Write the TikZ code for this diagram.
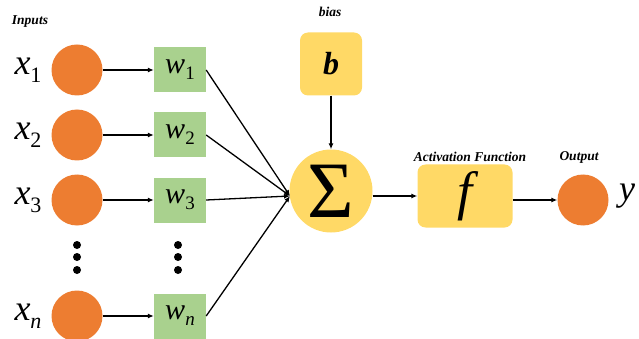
\documentclass[tikz,border=0pt]{standalone}
\usepackage{fontspec}
\setmainfont{LiberationSerif}[Extension=.ttf,UprightFont=*-Regular,BoldFont=*-Bold,ItalicFont=*-Italic,BoldItalicFont=*-BoldItalic]
\usetikzlibrary{arrows.meta}
\definecolor{inorange}{HTML}{ED7D31}
\definecolor{wgreen}{HTML}{A9D18E}
\definecolor{ayellow}{HTML}{FFD966}
\tikzset{
  inp/.style={circle,fill=inorange,minimum size=51pt,inner sep=0pt},
  wbox/.style={rectangle,fill=wgreen,minimum width=52pt,minimum height=45pt,inner sep=0pt},
  ybox/.style={rectangle,rounded corners=8pt,fill=ayellow,inner sep=0pt},
  lbl/.style={font=\fontsize{13.5}{13.5}\selectfont\bfseries\itshape},
  xlab/.style={inner sep=0pt},
  conn/.style={line width=1.3pt,-{Latex[length=6pt,width=5pt]}},
  dotc/.style={circle,fill=black,minimum size=8pt,inner sep=0pt}
}
\newcommand{\xsub}[2]{{\fontsize{36}{36}\selectfont\itshape #1}\raisebox{-8pt}{\fontsize{22}{22}\selectfont #2}}
\newcommand{\wsub}[2]{{\fontsize{30}{30}\selectfont\itshape #1}\raisebox{-6pt}{\fontsize{19}{19}\selectfont #2}}
\begin{document}
\begin{tikzpicture}[x=1pt,y=-1pt]
\useasboundingbox (0,0) rectangle (639,339);
\node[lbl] (inlab) at (30,22) {Inputs};
% inputs
\node[inp] (i1) at (77,70) {};
\node[inp] (i2) at (77,135) {};
\node[inp] (i3) at (77,200) {};
\node[inp] (in) at (77,316) {};
\node[xlab] (x1) at (28,70) {\xsub{x}{1}};
\node[xlab] (x2) at (28,135) {\xsub{x}{2}};
\node[xlab] (x3) at (28,200) {\xsub{x}{3}};
\node[xlab] (xn) at (28,316) {\xsub{x}{\itshape n}};
% weights
\node[wbox] (w1) at (180,70) {\wsub{w}{1}};
\node[wbox] (w2) at (180,135) {\wsub{w}{2}};
\node[wbox] (w3) at (180,200) {\wsub{w}{3}};
\node[wbox] (wn) at (180,316) {\wsub{w}{\itshape n}};
% dots
\node[dotc] (da1) at (77,245) {};
\node[dotc] (da2) at (77,257) {};
\node[dotc] (da3) at (77,270) {};
\node[dotc] (db1) at (178,245) {};
\node[dotc] (db2) at (178,257) {};
\node[dotc] (db3) at (178,270) {};
% sum
\node[circle,fill=ayellow,minimum size=83pt,inner sep=0pt] (sum) at (331,191) {\fontsize{80}{80}\selectfont Σ};
\coordinate (sin) at (290,196);
% bias
\node[lbl] (biaslab) at (330,12) {bias};
\node[ybox,minimum width=62pt,minimum height=63pt] (b) at (331,64) {\fontsize{32}{32}\selectfont\bfseries\itshape b};
% activation
\node[lbl] (actlab) at (470,157) {Activation Function};
\node[ybox,minimum width=95pt,minimum height=63pt] (f) at (465,196) {\fontsize{54}{54}\selectfont\itshape f};
% output
\node[lbl] (outlab) at (579,157) {Output};
\node[inp] (out) at (583,200) {};
\node[xlab,anchor=west] (y) at (619,196) {\fontsize{36}{36}\selectfont\itshape y};
% connectors
\foreach \a/\b in {i1/w1,i2/w2,i3/w3,in/wn}
  \draw[conn] (\a) -- (\b);
\foreach \w in {w1,w2,w3,wn}
  \draw[conn] (\w.east) -- (sin);
\draw[conn] (b) -- (sum);
\draw[conn] (sum.east |- f) -- (f.west);
\draw[conn] (f.east |- out) -- (out);
\end{tikzpicture}
\end{document}
